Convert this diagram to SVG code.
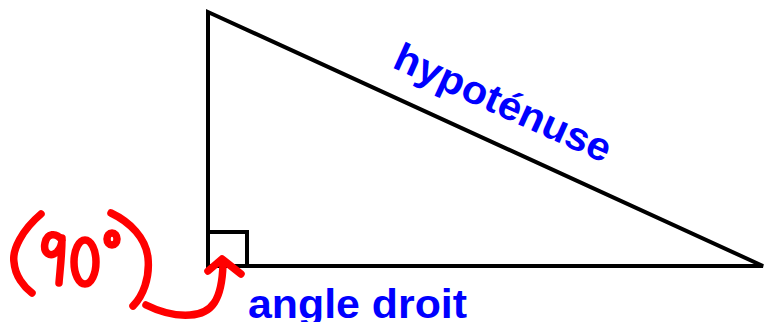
<svg xmlns="http://www.w3.org/2000/svg" width="765" height="322" viewBox="0 0 765 322">
<style>
.edge{fill:none;stroke:#000;stroke-width:4;stroke-linejoin:miter}
.lbl{font-family:"Liberation Sans",Arial,sans-serif;font-weight:bold;fill:#0000ff}
.red{fill:none;stroke:#ff0000;stroke-width:7.5;stroke-linecap:round;stroke-linejoin:round}
</style>
<rect width="765" height="322" fill="#fff"/>
<g id="triangle">
<path class="edge" d="M208,266 L208,12 L763,266 Z"/>
<path class="edge" d="M208,232 L247,232 L247,266"/>
</g>
<g id="hypotenuse-label">
<text class="lbl" font-size="40" textLength="234" lengthAdjust="spacingAndGlyphs" transform="translate(391,67) rotate(24.3)">hypoténuse</text>
</g>
<g id="angle-label">
<text class="lbl" font-size="40" x="248" y="318" textLength="219" lengthAdjust="spacingAndGlyphs">angle droit</text>
</g>
<g id="annotation">
<path class="red" d="M41,214 C22,230 12,250 14,262 C15,276 24,287 32,293"/>
<path class="red" d="M62,240 C56,232 47,233 45,243 C43,253 50,258 57,252 C61,248 62,243 62,238 C62,255 60,270 59,283"/>
<ellipse class="red" cx="85" cy="262" rx="11" ry="22"/>
<ellipse class="red" cx="112" cy="239" rx="5" ry="6"/>
<path class="red" d="M111,213 C130,222 146,238 148,258 C150,278 143,296 133,306"/>
</g>
<g id="connectors">
<path class="red" d="M146,305 C160,312 175,316 190,315 C212,314 222,300 223,264"/>
<path class="red" d="M208,271 L222,259 L241,274"/>
</g>
</svg>
